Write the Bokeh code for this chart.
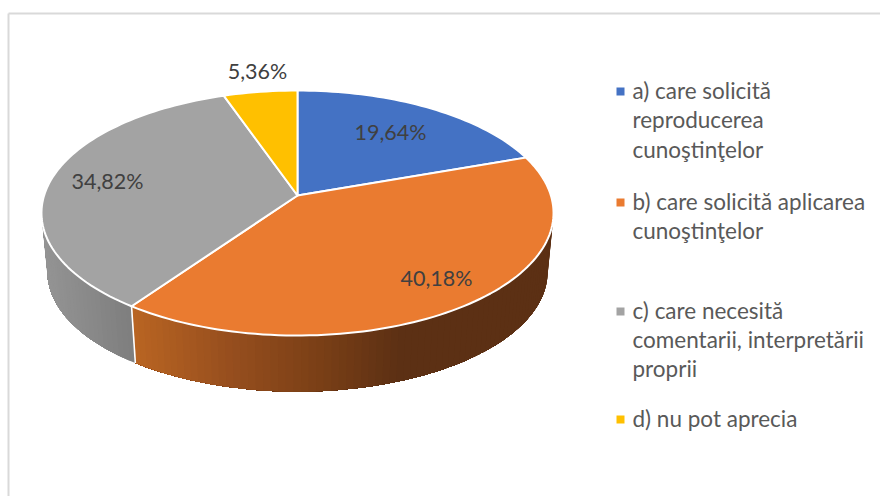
import math
from bokeh.plotting import figure
from bokeh.models import Range1d
from bokeh.core.properties import value
from bokeh.embed import file_html
from bokeh.resources import INLINE

# Data
values = [19.64, 40.18, 34.82, 5.36]
legend_lines = [
    ["a) care solicită", "reproducerea", "cunoştinţelor"],
    ["b) care solicită aplicarea", "cunoştinţelor"],
    ["c) care necesită", "comentarii, interpretării", "proprii"],
    ["d) nu pot aprecia"],
]
colors = ["#4472C4", "#EA7B30", "#A3A3A3", "#FFC000"]

# Layout (page pixels)
CX, CY = 297.0, 195.0
A, B, K = 253.4, 120.0, -1 / 7
EYC = 212.5
S, DY = 0.977, 58.9
label_pos = [(390, 131), (436, 277), (107, 180), (257, 70)]
legend_text_x = 632
legend_marker_x = 620
legend_marker_ys = [91, 202, 311, 419]
legend_ys = [[89.5, 118.5, 148.5], [200.5, 229.5], [309.5, 338.5, 367.5], [417.5]]
FONT = "Lato"


def top(theta):
    t = math.radians(theta)
    u, v = math.sin(t), -math.cos(t)
    d = 1 + K * v
    return CX + A * u / d, CY + B * v / d


def bottom(theta):
    x, y = top(theta)
    return CX + S * (x - CX), EYC + S * (y - EYC) + DY


def lerp_stops(x, stops):
    if x <= stops[0][0]:
        return stops[0][1]
    for (x0, c0), (x1, c1) in zip(stops, stops[1:]):
        if x <= x1:
            f = (x - x0) / (x1 - x0)
            return tuple(c0[i] + (c1[i] - c0[i]) * f for i in range(3))
    return stops[-1][1]


def hexc(c):
    return "#%02x%02x%02x" % tuple(int(round(i)) for i in c)


orange_stops = [(135, (184, 100, 34)), (230, (150, 78, 30)), (320, (122, 63, 22)), (400, (92, 48, 20))]
gray_stops = [(42, (148, 148, 148)), (135, (125, 125, 125))]

p = figure(width=880, height=496, output_backend="svg", toolbar_location=None,
           x_range=Range1d(0, 880), y_range=Range1d(496, 0),
           min_border=0, outline_line_color=None, background_fill_color="white",
           border_fill_color="white")
p.axis.visible = False
p.grid.visible = False

# Chart frame
p.segment([8, 8], [13, 13], [8, 880], [500, 13], line_color="#D9D9D9", line_width=2)

# Boundaries of the slices, in degrees clockwise from the top
bounds = [0.0]
for v in values:
    bounds.append(bounds[-1] + v / sum(values) * 360)

# Extruded side, painted strip over strip so that no seams show
LEFT_T, RIGHT_T = 261.8, 98.2
def side(t0, t1, stops):
    n = max(2, int(abs(t1 - t0) / 1.5))
    angs = [t0 + (t1 - t0) * i / n for i in range(n + 1)]
    for i in range(n):
        rest = angs[i:]
        tops = [top(a) for a in rest]
        bots = [bottom(a) for a in reversed(rest)]
        mid = (tops[0][0] + tops[1][0]) / 2
        col = hexc(lerp_stops(mid, stops))
        p.patch([q[0] for q in tops + bots], [q[1] for q in tops + bots],
                fill_color=col, line_color=None)

side(RIGHT_T, bounds[2], orange_stops)
side(bounds[2], LEFT_T, gray_stops)

# Separator on the side between orange and grey
a_top, a_bot = top(bounds[2]), bottom(bounds[2])
p.line([a_top[0], a_bot[0]], [a_top[1], a_bot[1]], line_color="white", line_width=1.6)

# Top face
for i, col in enumerate(colors):
    n = max(4, int((bounds[i + 1] - bounds[i]) / 1.5))
    pts = [top(bounds[i] + (bounds[i + 1] - bounds[i]) * j / n) for j in range(n + 1)]
    xs = [CX] + [q[0] for q in pts]
    ys = [CY] + [q[1] for q in pts]
    p.patch(xs, ys, fill_color=col, line_color="white", line_width=2, line_join="round")

# Data labels
p.text([q[0] for q in label_pos], [q[1] for q in label_pos],
       text=[f"{v:.2f}%".replace(".", ",") for v in values],
       text_font=value(FONT), text_font_size="21.5px", text_color="#404040",
       text_align="center", text_baseline="middle")

# Legend
for lines, ys, my, col in zip(legend_lines, legend_ys, legend_marker_ys, colors):
    p.scatter([legend_marker_x], [my], marker="square", size=8,
              fill_color=col, line_color=None)
    p.text([legend_text_x] * len(lines), ys, text=lines,
           text_font=value(FONT), text_font_size="22.5px", text_color="#595959",
           text_align="left", text_baseline="middle")

open("out.html", "w").write(file_html(p, INLINE))
